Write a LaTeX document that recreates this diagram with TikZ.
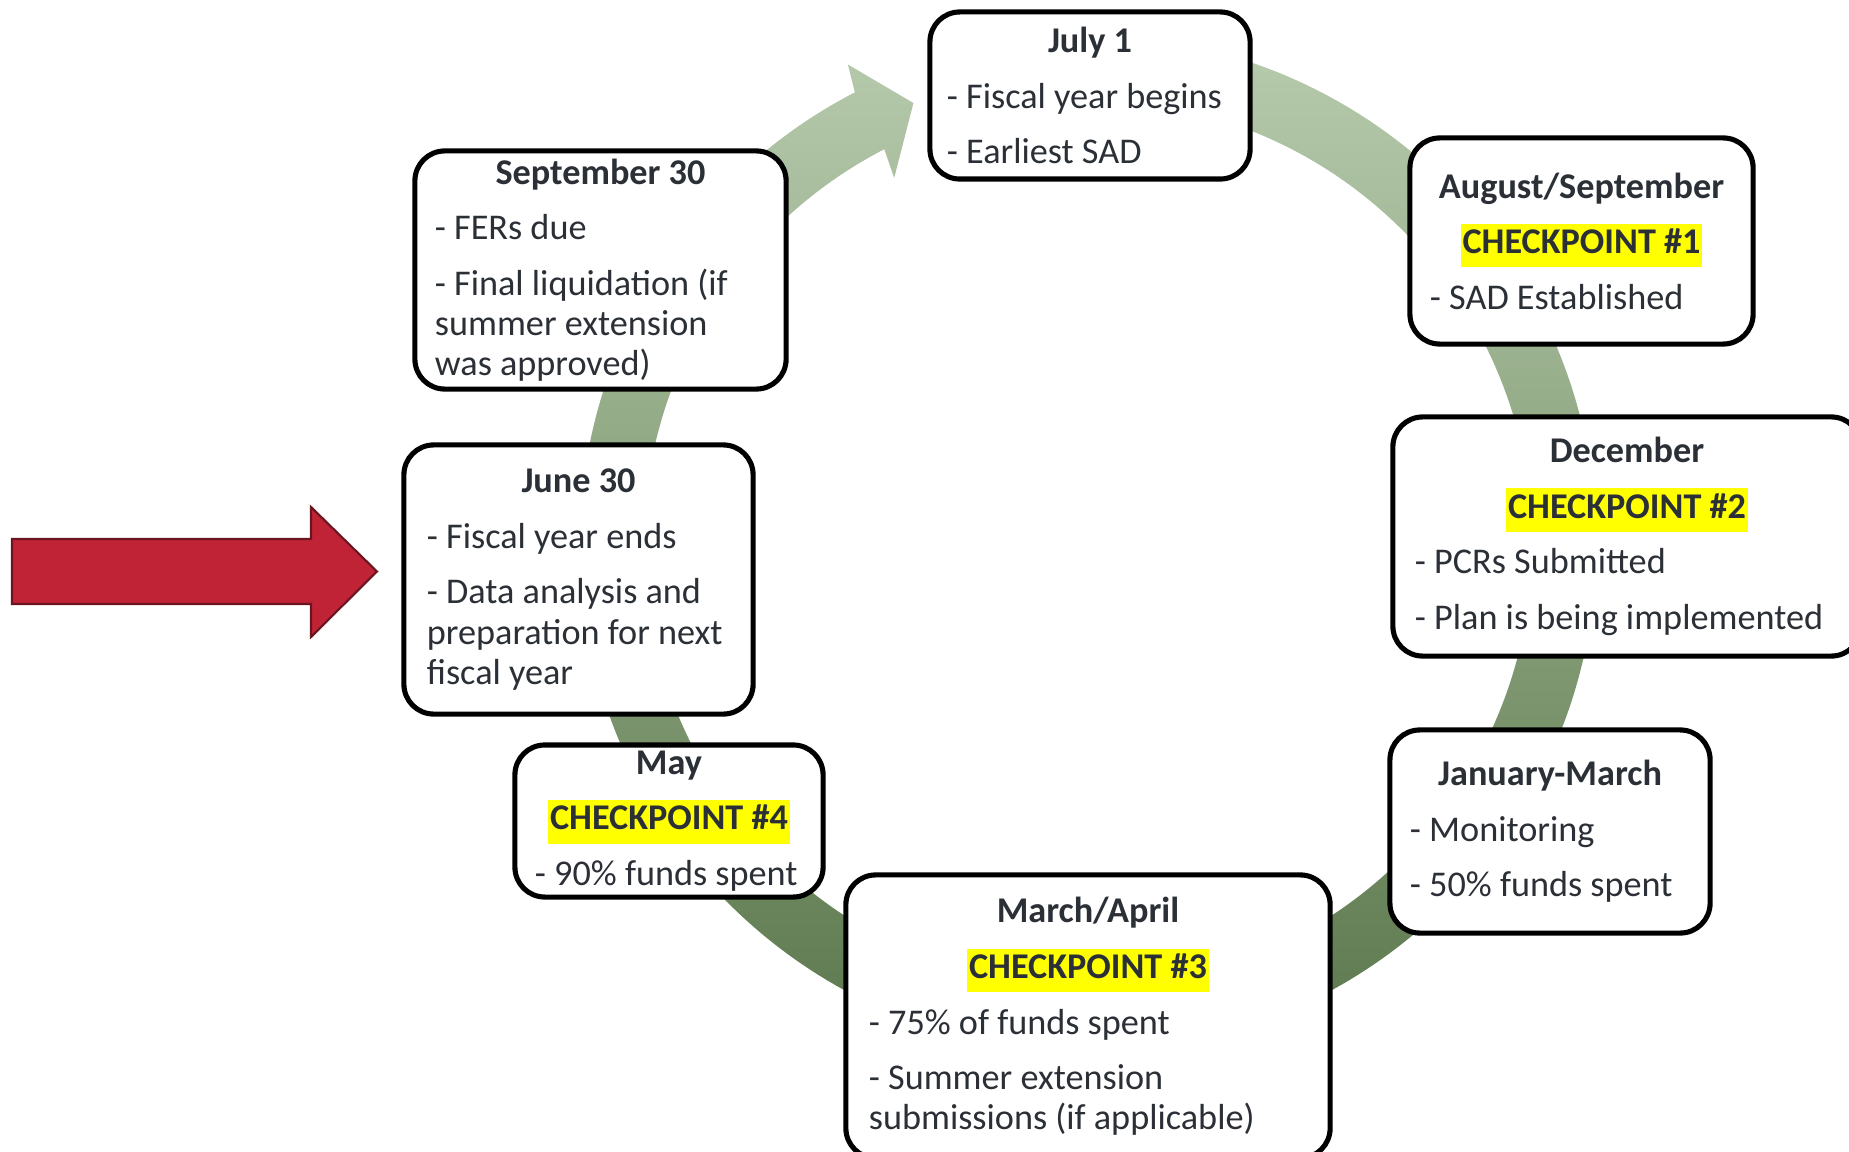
\documentclass[tikz,border=0pt]{standalone}
\usepackage{fontspec}
\setmainfont{Carlito}
\usepackage{xcolor}
\usepackage{tikz}

\definecolor{txt}{HTML}{2B2F36}
\definecolor{hl}{HTML}{FFFF00}
\definecolor{ringtop}{HTML}{B9CDAF}
\definecolor{ringbot}{HTML}{5A764B}
\definecolor{arrowred}{HTML}{C02336}
\definecolor{arrowedge}{HTML}{6B1520}

\newcommand{\ttl}[1]{\makebox[\hsize]{\textbf{#1}}}
\newcommand{\chk}[1]{\makebox[\hsize]{{\setlength{\fboxsep}{0.5pt}\colorbox{hl}{\strut\textbf{#1}}}}}

\begin{document}
\begin{tikzpicture}[x=0.01cm,y=-0.01cm,
  stage/.style={draw=black,line width=1.45pt,fill=white,rounded corners=8.5pt,
    text=txt,align=flush left,inner xsep=0pt,inner ysep=0pt,
    font=\fontsize{10.3}{11.4}\selectfont}]
  \useasboundingbox (0,0) rectangle (1849,1152);
  \clip (0,0) rectangle (1849,1152);

  % green cycle with its head
  \begin{scope}[shift={(1088,544)}]
    \shade[top color=ringtop,bottom color=ringbot]
      (95:5.08cm) arc[start angle=95,end angle=-242.7,radius=5.08cm]
      -- (-243.4:5.36cm) -- (-248.4:4.74cm) -- (-242.1:4.14cm)
      -- (-242.7:4.44cm) arc[start angle=-242.7,end angle=95,radius=4.44cm]
      -- cycle;
  \end{scope}

  \node[stage,minimum width=3.20cm,minimum height=1.67cm,text width=2.86cm] (jul) at (1090,95.5)
    {\ttl{July 1}\\[4.4pt]- Fiscal year begins\\[4.4pt]- Earliest SAD};
  \node[stage,minimum width=3.43cm,minimum height=2.06cm,text width=3.03cm] (aug) at (1581.5,241)
    {\ttl{August/September}\\[4.4pt]\chk{CHECKPOINT \#1}\\[4.4pt]- SAD Established};
  \node[stage,minimum width=4.68cm,minimum height=2.39cm,text width=4.24cm] (dec) at (1627,536.5)
    {\ttl{December}\\[4.4pt]\chk{CHECKPOINT \#2}\\[4.4pt]- PCRs Submitted\\[4.4pt]- Plan is being implemented};
  \node[stage,minimum width=3.20cm,minimum height=2.03cm,text width=2.80cm] (jan) at (1550,831.5)
    {\ttl{January-March}\\[4.4pt]- Monitoring\\[4.4pt]- 50\% funds spent};
  \node[stage,minimum width=4.84cm,minimum height=2.83cm,text width=4.38cm] (mar) at (1088,1016.5)
    {\ttl{March/April}\\[4.4pt]\chk{CHECKPOINT \#3}\\[4.4pt]- 75\% of funds spent\\[4.4pt]- Summer extension\\submissions (if applicable)};
  \node[stage,minimum width=3.08cm,minimum height=1.52cm,text width=2.68cm] (may) at (669,821)
    {\ttl{May}\\[4.4pt]\chk{CHECKPOINT \#4}\\[4.4pt]- 90\% funds spent};
  \node[stage,minimum width=3.49cm,minimum height=2.69cm,text width=3.03cm] (jun) at (578.5,579.5)
    {\ttl{June 30}\\[4.4pt]- Fiscal year ends\\[4.4pt]- Data analysis and\\preparation for next\\fiscal year};
  \node[stage,minimum width=3.71cm,minimum height=2.38cm,text width=3.31cm] (sep) at (600.5,270)
    {\ttl{September 30}\\[4.4pt]- FERs due\\[4.4pt]- Final liquidation (if\\summer extension\\was approved)};

  % red pointer to the year end
  \coordinate (redtip) at (377,571.5);
  \draw[arrowedge,fill=arrowred,line width=0.6pt]
    (12,539) -- (311,539) -- (311,507) -- (redtip) -- (311,637) -- (311,604) -- (12,604) -- cycle;
\end{tikzpicture}
\end{document}
